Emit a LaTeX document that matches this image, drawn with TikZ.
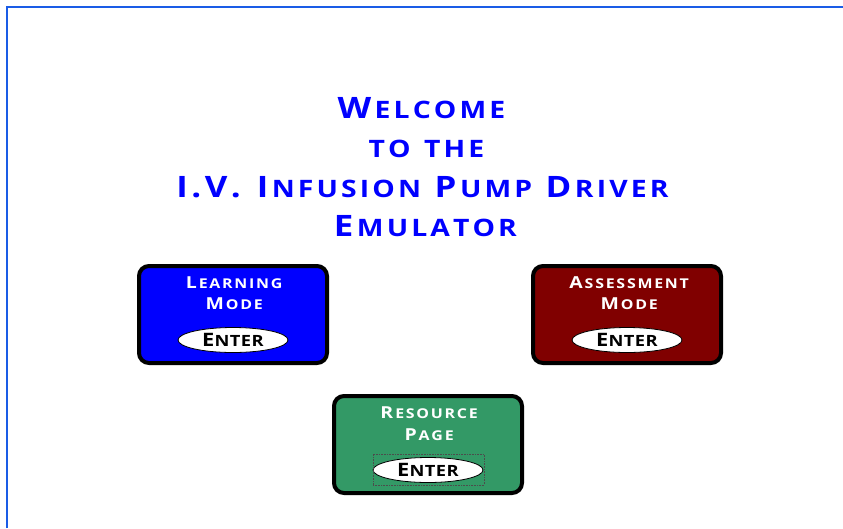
\documentclass[tikz,border=0pt]{standalone}
\usepackage{fontspec}
\usepackage{graphicx}
\setmainfont{Open Sans}
\usetikzlibrary{shapes.geometric}
% tracking: a small kern after every letter
\newlength\trackgap
\makeatletter
\newcommand\tracked[1]{\tracked@loop#1\relax}
\def\tracked@loop#1{\ifx#1\relax\else#1\kern\trackgap\expandafter\tracked@loop\fi}
\makeatother
% hand-made small capitals: large initial, smaller capitals after it
\newcommand\TB[1]{{\fontsize{29.5}{30}\selectfont\trackgap=0.1em\tracked{#1}}}
\newcommand\TS[1]{{\fontsize{24}{24}\selectfont\trackgap=0.11em\tracked{#1}}}
\newcommand\BB[1]{{\fontsize{16.5}{17}\selectfont\trackgap=0.1em\tracked{#1}}}
\newcommand\BS[1]{{\fontsize{13.5}{14}\selectfont\trackgap=0.11em\tracked{#1}}}
\newcommand\EB[1]{{\fontsize{18.5}{19}\selectfont\trackgap=0.02em\tracked{#1}}}
\newcommand\ES[1]{{\fontsize{15.5}{16}\selectfont\trackgap=0.02em\tracked{#1}}}
\newcommand\wide[1]{\scalebox{1.18}[1]{#1}}
\definecolor{framecol}{HTML}{1A5CE6}
\definecolor{learnfill}{HTML}{0000FF}
\definecolor{assessfill}{HTML}{800000}
\definecolor{resfill}{HTML}{339966}
\definecolor{titleblue}{HTML}{0000FF}
\tikzset{
  titleline/.style={anchor=base, inner sep=0pt, text=titleblue, font=\bfseries},
  modebox/.style={draw=black, line width=4pt, rounded corners=10pt,
    minimum width=188pt, minimum height=97pt, inner sep=0pt},
  boxlabel/.style={anchor=base, inner sep=0pt, text=white, font=\bfseries},
  enterpill/.style={ellipse, draw=black, line width=0.8pt, fill=white,
    minimum width=110pt, minimum height=25pt, inner sep=0pt},
  enterlabel/.style={anchor=base, inner sep=0pt, text=black, font=\bfseries},
}
\begin{document}
\begin{tikzpicture}[x=1pt, y=-1pt]
\useasboundingbox (0,0) rectangle (843,528);
\fill[white] (0,0) rectangle (843,528);

% window frame edges
\draw[framecol, line width=2pt] (7,528) -- (7,7) -- (843,7);

% heading
\node[titleline] (t1) at (423,118) {\wide{\TB{W}\TS{ELCOME}}};
\node[titleline] (t2) at (428,157) {\wide{\TS{TO\ THE}}};
\node[titleline] (t3) at (424,197) {\wide{\TB{I.V.\ I}\TS{NFUSION\ }\TB{P}\TS{UMP\ }\TB{D}\TS{RIVER}}};
\node[titleline] (t4) at (427,236) {\wide{\TB{E}\TS{MULATOR}}};

% learning mode
\node[modebox, fill=learnfill] (learn) at (233,314.5) {};
\node[boxlabel] (learn1) at (235,288) {\wide{\BB{L}\BS{EARNING}}};
\node[boxlabel] (learn2) at (235,309) {\wide{\BB{M}\BS{ODE}}};
\node[enterpill] (learnbtn) at (233,340) {};
\node[enterlabel] (learnbtntxt) at (233,346) {\wide{\EB{E}\ES{NTER}}};

% assessment mode
\node[modebox, fill=assessfill] (assess) at (627,314.5) {};
\node[boxlabel] (assess1) at (630,288) {\wide{\BB{A}\BS{SSESSMENT}}};
\node[boxlabel] (assess2) at (630,309) {\wide{\BB{M}\BS{ODE}}};
\node[enterpill] (assessbtn) at (627,340) {};
\node[enterlabel] (assessbtntxt) at (627,346) {\wide{\EB{E}\ES{NTER}}};

% resource page
\node[modebox, fill=resfill] (res) at (428,444.5) {};
\node[boxlabel] (res1) at (430,418) {\wide{\BB{R}\BS{ESOURCE}}};
\node[boxlabel] (res2) at (430,440) {\wide{\BB{P}\BS{AGE}}};
\node[enterpill] (resbtn) at (428,470) {};
\node[draw=black!70, densely dotted, line width=0.6pt, minimum width=111pt,
  minimum height=31pt, inner sep=0pt] (ressel) at (428.5,469.5) {};
\node[enterlabel] (resbtntxt) at (428,476) {\wide{\EB{E}\ES{NTER}}};
\end{tikzpicture}
\end{document}
